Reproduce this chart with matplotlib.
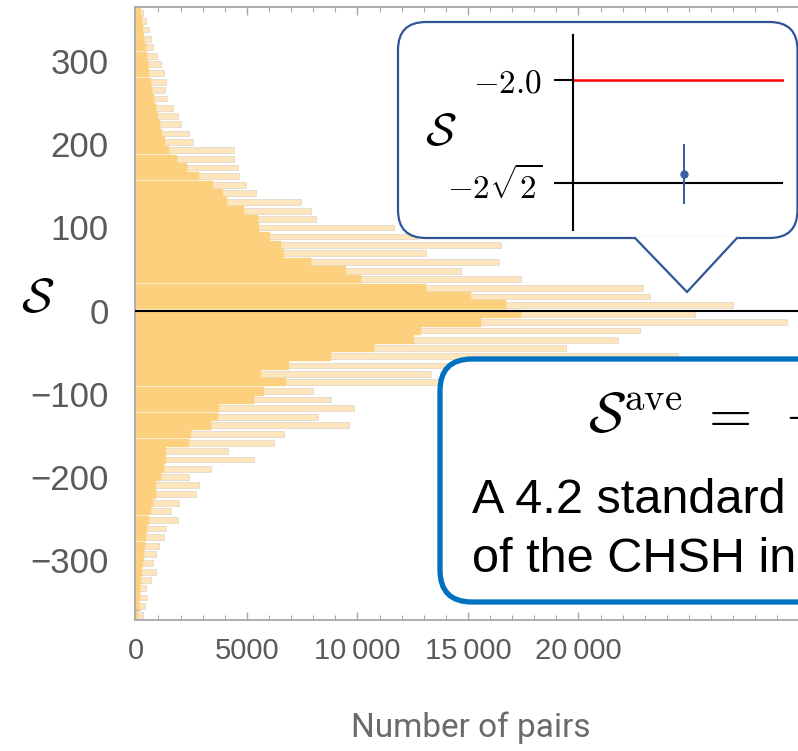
import numpy as np
import matplotlib
matplotlib.use("Agg")
import matplotlib.pyplot as plt
from matplotlib.patches import FancyBboxPatch, Polygon
from matplotlib.ticker import MultipleLocator, FixedLocator, FixedFormatter

plt.rcParams['mathtext.fontset'] = 'cm'
plt.rcParams['font.family'] = ['Liberation Sans', 'DejaVu Sans']

# ---------------- data ----------------
s_bins = [358, 348, 338, 327, 317, 306, 296, 286, 275, 265, 255, 244, 234, 224, 213, 203,
          193, 182, 172, 162, 151, 141, 131, 120, 110, 100, 89, 79, 69, 58, 48, 38, 27,
          17, 7, -4, -14, -24, -35, -45, -55, -66, -76, -86, -97, -107, -117, -128, -138,
          -148, -159, -169, -179, -190, -200, -210, -221, -231, -241, -252, -262, -272,
          -283, -293, -303, -314, -324, -334, -345, -355, -366]
core_counts = [226, 272, 316, 361, 452, 496, 542, 587, 678, 723, 813, 904, 993, 1084, 1175,
               1310, 1490, 1852, 2303, 2845, 3477, 3928, 4109, 4876, 5508, 5554, 6051, 6547,
               6682, 7901, 9482, 10159, 13093, 15126, 16705, 17383, 15577, 12868, 12552,
               10746, 8804, 6908, 5644, 6773, 5779, 5328, 3748, 3703, 3386, 2483, 2394,
               1355, 1355, 1264, 1129, 904, 904, 767, 678, 587, 496, 452, 407, 361, 316,
               272, 226, 181, 181, 136, 90]
outer_counts = [316, 452, 587, 678, 767, 949, 1129, 1264, 1355, 1310, 1400, 1670, 1897, 2032,
                2394, 2574, 4425, 4425, 4605, 4651, 4967, 5418, 7450, 7901, 8127, 11648,
                12733, 16480, 13093, 16389, 14674, 17383, 22936, 23253, 26999, 25284, 29437,
                22800, 21807, 19414, 24517, 15577, 13319, 14674, 7992, 8804, 9843, 8218,
                9617, 6682, 6231, 4154, 5328, 3386, 2394, 2845, 2709, 1941, 1581, 1897, 1355,
                1264, 1039, 904, 767, 904, 678, 452, 496, 407, 316]
x_ticks = [0, 5000, 10000, 15000, 20000]
x_tick_labels = ['0', '5000', '10\u2009000', '15\u2009000', '20\u2009000']
y_ticks = [-300, -200, -100, 0, 100, 200, 300]
y_tick_labels = ['\u2212300', '\u2212200', '\u2212100', '0', '100', '200', '300']

# inset data
classical_bound = -2.0
quantum_bound = -2 * np.sqrt(2)
s_ave = -2.756
s_err = 0.24
inset_ticks = [quantum_bound, classical_bound]
inset_tick_labels = [r'$-2\sqrt{2}$', r'$-2.0$']

# ---------------- figure ----------------
W, H = 798, 751
fig = plt.figure(figsize=(W / 100, H / 100), dpi=100)
fig.patch.set_facecolor('white')

def ax_rect(l, t, r, b):
    return [l / W, 1 - b / H, (r - l) / W, (b - t) / H]

ax = fig.add_axes(ax_rect(135, 7, 820, 620))
ax.barh(s_bins, outer_counts, height=7, color='#fee5bb', edgecolor='#dcd5c8',
        linewidth=0.5, zorder=1)
ax.barh(s_bins, core_counts, height=10.4, color='#fcd07c', edgecolor='#fcd07c',
        linewidth=0.3, zorder=2)
ax.axhline(0, color='black', lw=1.5, zorder=3)
ax.set_xlim(-60, 30926)
ax.set_ylim(-372, 365)

grey = '#a8a8a8'
for sp in ax.spines.values():
    sp.set_color(grey)
    sp.set_linewidth(1.3)
ax.xaxis.set_major_locator(FixedLocator(x_ticks))
ax.xaxis.set_major_formatter(FixedFormatter(x_tick_labels))
ax.xaxis.set_minor_locator(MultipleLocator(1000))
ax.yaxis.set_major_locator(FixedLocator(y_ticks))
ax.yaxis.set_major_formatter(FixedFormatter(y_tick_labels))
ax.yaxis.set_minor_locator(MultipleLocator(20))
ax.tick_params(which='both', direction='in', top=True, right=False, color=grey)
ax.tick_params(which='major', length=6, width=1.0, labelcolor='#5a5a5a')
ax.tick_params(which='minor', length=3.5, width=0.8)
ax.tick_params(axis='x', pad=12, labelsize=21)
ax.tick_params(axis='y', pad=19, labelsize=25)

fig.text(38 / W, 1 - 300 / H, r'$\mathcal{S}$', fontsize=35, ha='center', va='center')
fig.text(471 / W, 1 - 728 / H, 'Number of pairs', fontsize=24, color='#6b6b6b',
         family='Roboto', ha='center', va='center')

# ---------------- overlay (callouts) ----------------
ov = fig.add_axes([0, 0, 1, 1], zorder=5)
ov.set_xlim(0, W)
ov.set_ylim(H, 0)
ov.axis('off')
ov.patch.set_alpha(0)

box1 = FancyBboxPatch((398, 22), 399.5, 216, boxstyle='round,pad=0,rounding_size=28',
                      fc='white', ec='#2f5597', lw=1.6)
ov.add_patch(box1)
ov.add_patch(Polygon([(633, 236.5), (687, 292), (739, 236.5)], closed=True, fc='white',
                     ec='none'))
ov.plot([635, 687, 737], [238, 292, 238], color='#2f5597', lw=1.6, solid_joinstyle='miter')
ov.text(441, 133, r'$\mathcal{S}$', fontsize=33, ha='center', va='center')

box2 = FancyBboxPatch((440, 359), 440, 243, boxstyle='round,pad=0,rounding_size=32',
                      fc='white', ec='#0070c0', lw=3.8)
ov.add_patch(box2)
ov.text(588, 418, r'$\mathcal{S}^{\mathrm{ave}}\;=\;-$', fontsize=40, ha='left',
        va='center')
ov.text(472, 513, 'A 4.2 standard deviation violation', fontsize=35, ha='left',
        va='baseline', color='black')
ov.text(472, 572, 'of the CHSH inequality', fontsize=35, ha='left', va='baseline',
        color='black')

# ---------------- inset plot ----------------
ax2 = fig.add_axes(ax_rect(573, 35, 784, 230), zorder=7)
ax2.patch.set_alpha(0)
ax2.set_xlim(0, 1.9)
ax2.set_ylim(-3.206, -1.638)
for k in ['top', 'right', 'bottom']:
    ax2.spines[k].set_visible(False)
ax2.spines['left'].set_color('black')
ax2.spines['left'].set_linewidth(1.5)
ax2.set_xticks([])
ax2.yaxis.set_major_locator(FixedLocator(inset_ticks))
ax2.yaxis.set_major_formatter(FixedFormatter(inset_tick_labels))
ax2.tick_params(axis='y', direction='out', length=14, width=1.5, color='black',
                labelsize=24, pad=8)
ax2.axhline(classical_bound, xmin=0, xmax=1, color='red', lw=1.8)
ax2.axhline(quantum_bound, xmin=0, xmax=0.99, color='black', lw=1.5)
ax2.errorbar([1.0], [s_ave], yerr=[s_err], fmt='o', color='#3a5da8', ms=5,
             elinewidth=1.5, capsize=0)

fig.savefig('out.png', dpi=100)
